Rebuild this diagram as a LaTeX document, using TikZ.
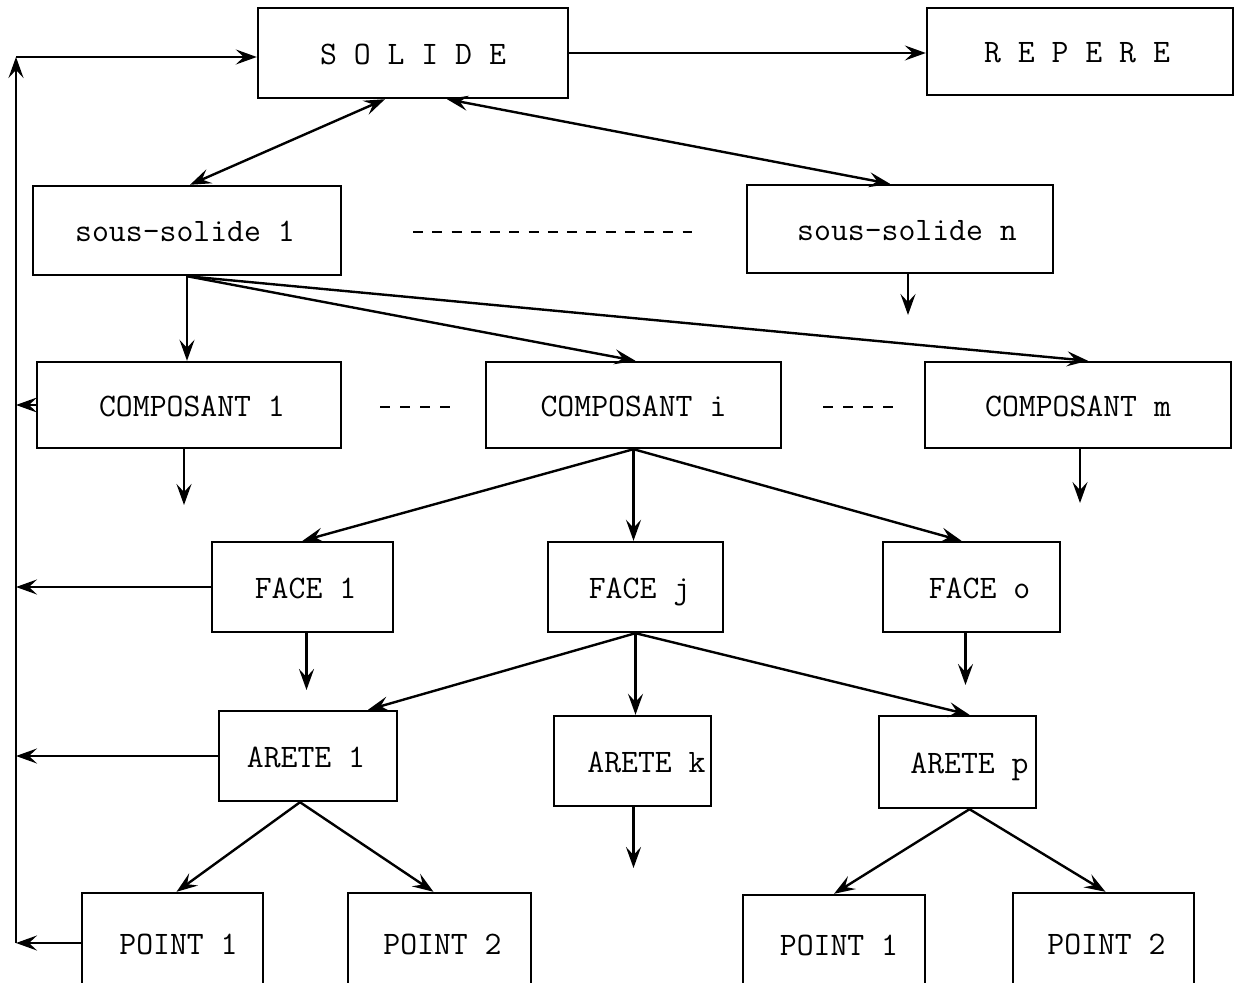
\documentclass[tikz,border=0pt]{standalone}
\usetikzlibrary{arrows.meta}
\begin{document}
\begin{tikzpicture}[x=0.5pt,y=-0.5pt,
  box/.style={draw,line width=1.2pt,font=\ttfamily\fontsize{16.4}{19}\selectfont,inner sep=0pt,anchor=center,text height=11.5pt,text depth=0pt},
  tip/.tip={Stealth[length=10.5pt,width=7.5pt,inset=4pt]},
  arr/.style={line width=1.2pt,-tip},
  darr/.style={line width=1.2pt,tip-tip},
  longdash/.style={line width=1.3pt,dash pattern=on 5pt off 4.625pt},
  shortdash/.style={line width=1.3pt,dash pattern=on 5pt off 5pt}]
\clip (0,0) rectangle (1235,983);
\fill[white] (0,0) rectangle (1235,983);

% boxes
\node[box,minimum width=155pt,minimum height=45pt] (solide) at (413,53) {S O L I D E};
\node[box,minimum width=153pt,minimum height=43.5pt] (repere) at (1080,51.5) {\hspace*{-3pt}R E P E R E};
\node[box,minimum width=154pt,minimum height=44.5pt] (ss1) at (187,230.5) {\hspace*{-2pt}sous-solide 1};
\node[box,minimum width=153pt,minimum height=44pt] (ssn) at (900,229) {\hspace*{7pt}sous-solide n};
\node[box,minimum width=152pt,minimum height=43pt] (c1) at (189,405) {\hspace*{3pt}COMPOSANT 1};
\node[box,minimum width=147.5pt,minimum height=43pt] (ci) at (633.5,405) {COMPOSANT i};
\node[box,minimum width=153pt,minimum height=43pt] (cm) at (1078,405) {COMPOSANT m};
\node[box,minimum width=90.5pt,minimum height=45pt] (f1) at (302.5,587) {\hspace*{3pt}FACE 1};
\node[box,minimum width=87.5pt,minimum height=45pt] (fj) at (635.5,587) {\hspace*{4pt}FACE j};
\node[box,minimum width=88.5pt,minimum height=45pt] (fo) at (971.5,587) {\hspace*{8pt}FACE o};
\node[box,minimum width=89pt,minimum height=45pt] (a1) at (308,756) {\hspace*{-2pt}ARETE 1};
\node[box,minimum width=78.5pt,minimum height=45pt] (ak) at (632.5,761) {\hspace*{14pt}ARETE k};
\node[box,minimum width=78.5pt,minimum height=46pt] (ap) at (957.5,762) {\hspace*{12pt}ARETE p};
\node[box,minimum width=90.5pt,minimum height=50pt] (p1l) at (172.5,943) {\hspace*{6pt}POINT 1};
\node[box,minimum width=91.5pt,minimum height=50pt] (p2l) at (439.5,943) {\hspace*{3pt}POINT 2};
\node[box,minimum width=91pt,minimum height=49pt] (p1r) at (834,944) {\hspace*{5pt}POINT 1};
\node[box,minimum width=90.5pt,minimum height=50pt] (p2r) at (1103.5,943) {\hspace*{3pt}POINT 2};

% free ends
\coordinate (busT) at (16,57);
\coordinate (busB) at (16,943);
\coordinate (ssnE) at (908,315);
\coordinate (c1E) at (184,505);
\coordinate (cmE) at (1080,503);
\coordinate (f1E) at (306.5,690);
\coordinate (foE) at (965.5,685);
\coordinate (akE) at (633.5,868);
\coordinate (dA) at (413,232);
\coordinate (dB) at (692,232);
\coordinate (dC) at (380,407);
\coordinate (dD) at (450,407);
\coordinate (dE) at (823,407);
\coordinate (dF) at (893,407);

% left bus
\draw[arr] (busB) -- (busT);
\draw[arr] (busT) -- (busT -| solide.west);
\draw[arr] (c1.west) -- (c1.west -| busT);
\draw[arr] (f1.west) -- (f1.west -| busT);
\draw[arr] (a1.west) -- (a1.west -| busT);
\draw[arr] (p1l.west) -- (p1l.west -| busT);

% top level
\draw[arr] (solide.east) -- (repere.west |- solide.east);
\draw[darr] ([xshift=-14pt]solide.south) -- ([xshift=1.5pt]ss1.north);
\draw[darr] ([xshift=17pt]solide.south) -- ([xshift=-5pt]ssn.north);
\draw[longdash] (dA) -- (dB);
\draw[arr] ([xshift=4pt]ssn.south) -- (ssnE);

% sous-solide 1 fan
\draw[arr] (ss1.south) -- (ss1.south |- c1.north);
\draw[arr] (ss1.south) -- ([xshift=1pt]ci.north);
\draw[arr] (ss1.south) -- ([xshift=5pt]cm.north);
\draw[shortdash] (dC) -- (dD);
\draw[shortdash] (dE) -- (dF);
\draw[arr] ([xshift=-2.5pt]c1.south) -- (c1E);
\draw[arr] ([xshift=1pt]cm.south) -- (cmE);

% composant i fan
\draw[arr] (ci.south) -- (f1.north);
\draw[arr] (ci.south) -- (ci.south |- fj.north);
\draw[arr] (ci.south) -- ([xshift=-5pt]fo.north);
\draw[arr] ([xshift=2pt]f1.south) -- (f1E);
\draw[arr] ([xshift=-3pt]fo.south) -- (foE);

% face j fan
\draw[arr] (fj.south) -- ([xshift=30pt]a1.north);
\draw[arr] (fj.south) -- (fj.south |- ak.north);
\draw[arr] (fj.south) -- ([xshift=6pt]ap.north);
\draw[arr] ([xshift=0.5pt]ak.south) -- (akE);

% arete fans
\draw[arr] ([xshift=-4pt]a1.south) -- ([xshift=2pt]p1l.north);
\draw[arr] ([xshift=-4pt]a1.south) -- ([xshift=-3pt]p2l.north);
\draw[arr] ([xshift=6pt]ap.south) -- (p1r.north);
\draw[arr] ([xshift=6pt]ap.south) -- ([xshift=1pt]p2r.north);
\end{tikzpicture}
\end{document}
